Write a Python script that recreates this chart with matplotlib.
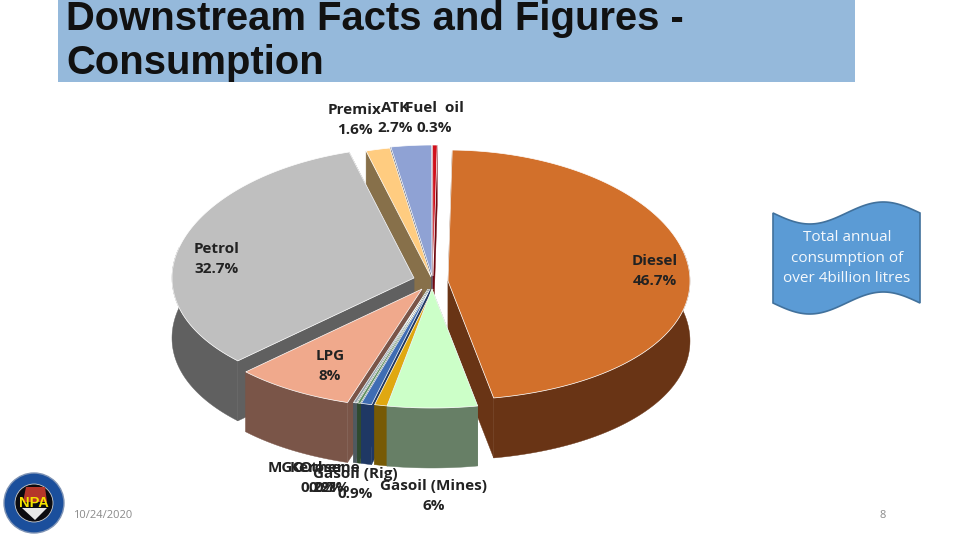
import numpy as np
import matplotlib
matplotlib.use("Agg")
import matplotlib.pyplot as plt
from matplotlib.patches import Polygon, Rectangle, Circle

# Data (clockwise from just past 12 o'clock)
categories = ["Diesel", "Gasoil (Mines)", "Gasoil (Rig)", "Kerosene", "MGO", "Other",
              "LPG", "Petrol", "Premix", "ATK", "Fuel oil"]
shares = [46.7, 6.0, 0.9, 0.7, 0.2, 0.2, 8.0, 32.7, 1.6, 2.7, 0.3]
shift_x = [16, 0, 1, -2, -3, -4, -10, -18, -1, 0, 1]
shift_y = [-2, 6, 6, 6, 6, 6, 6, -5, -6, -7, -7]
top_colors = ["#D2702B", "#CCFFC8", "#E0A810", "#3F6DB3", "#5E8F5E", "#95A3AB",
              "#F0A98C", "#BFBFBF", "#FFCC80", "#8FA2D4", "#D0101C"]
wall_colors = ["#693415", "#677F66", "#775A05", "#1F3864", "#2F4A2F", "#4F5A60",
               "#7A5548", "#606060", "#87704A", "#4A5470", "#700810"]

title = "Downstream Facts and Figures -\nConsumption"
note = "Total annual\nconsumption of\nover 4billion litres"
date_text = "10/24/2020"
page_text = "8"

# Projection of the tilted disc to figure pixels
CX, CY, RX, RY, SKEW, DEPTH, START = 432, 283, 242, 125, 6, 60, 1.0


def project(angle, r, dx, dy):
    u, v = r * np.sin(np.radians(angle)), r * np.cos(np.radians(angle))
    return np.column_stack([CX + dx + RX * u, CY + dy - RY * v - SKEW * v ** 2])


fig = plt.figure(figsize=(9.6, 5.4), dpi=100, facecolor="white")
ax = fig.add_axes([0, 0, 1, 1])
ax.set_xlim(0, 960)
ax.set_ylim(540, 0)
ax.axis("off")

# Title band
ax.add_patch(Rectangle((58, 0), 797, 82, fc="#95B9DB", ec="none", zorder=1))
ax.text(66, 41, title, fontsize=28.8, fontweight="bold", family="Liberation Sans",
        color="#111111", va="center", ha="left", linespacing=1.17, zorder=2)

# Pie slices
edges = np.concatenate([[0], np.cumsum(shares)]) * 360 / sum(shares) + START
slices = [(edges[i], edges[i + 1], i) for i in range(len(shares))]

# Back-to-front: the slices whose mid-point is farthest up go first
order = sorted(slices, key=lambda s: np.cos(np.radians((s[0] + s[1]) / 2)), reverse=True)
z = 5
for a0, a1, i in order:
    dx, dy = shift_x[i], shift_y[i]
    arc = np.linspace(a0, a1, 120)
    rim = project(arc, np.ones_like(arc), dx, dy)
    apex = project(np.array([a0]), np.array([0.0]), dx, dy)[0]
    drop = np.array([0, DEPTH])
    for p in (rim[0], rim[-1]):
        ax.add_patch(Polygon([apex, p, p + drop, apex + drop], fc=wall_colors[i],
                             ec=wall_colors[i], lw=0.3, zorder=z))
        z += 1
    front = np.cos(np.radians(arc)) < 0.25
    if front.any():
        pts = rim[front]
        ax.add_patch(Polygon(np.vstack([pts, (pts + drop)[::-1]]), fc=wall_colors[i],
                             ec=wall_colors[i], lw=0.3, zorder=z))
        z += 1
    ax.add_patch(Polygon(np.vstack([apex, rim]), fc=top_colors[i], ec="white", lw=0.5, zorder=z))
    z += 1

# Data labels
lab = dict(fontsize=11, fontweight="bold", family="Open Sans", color="#222222",
           ha="center", va="center", zorder=200, linespacing=1.6)
ax.text(194, 259, "Petrol\n32.7%", **{**lab, "ha": "left"})
ax.text(655, 271, "Diesel\n46.7%", **lab)
ax.text(330, 366, "LPG\n8%", **lab)
ax.text(434, 496, "Gasoil (Mines)\n6%", **lab)
ax.text(355, 120, "Premix\n1.6%", **lab)
ax.text(395, 118, "ATK\n2.7%", **lab)
ax.text(434, 118, "Fuel  oil\n0.3%", **lab)
ax.text(286, 468, "MGO", **lab)
ax.text(318, 488, "0.2%", **lab)
ax.text(322, 468, "Other", **lab)
ax.text(326, 488, "0.2%", **lab)
ax.text(325, 468, "Kerosene", **lab)
ax.text(332, 488, "0.7%", **lab)
ax.text(355, 484, "Gasoil (Rig)\n0.9%", **lab)

# Wave callout
t = np.linspace(0, 1, 80)
wave = 11 * np.sin(2 * np.pi * t)
top = np.column_stack([773 + 147 * t, 213 + wave])
bot = np.column_stack([773 + 147 * t, 303 + wave])
ax.add_patch(Polygon(np.vstack([top, bot[::-1]]), fc="#5B9BD5", ec="#41719C", lw=1.2, zorder=210))
ax.text(847, 258, note, fontsize=11, family="Open Sans", color="#F4F8FC", ha="center",
        va="center", linespacing=1.5, zorder=211)

# Footer
ax.text(73, 515, date_text, fontsize=8, family="Open Sans", color="#8A8A8A", va="center", zorder=5)
ax.text(883, 515, page_text, fontsize=8, family="Open Sans", color="#8A8A8A", ha="center", va="center", zorder=5)

# Logo
ax.add_patch(Circle((34, 503), 30, fc="#1B4F9C", ec="#7E93B5", lw=1, zorder=5))
ax.add_patch(Circle((34, 503), 19, fc="#0B0B10", ec="#CCCCCC", lw=0.6, zorder=6))
ax.add_patch(Polygon([[26, 487], [45, 487], [47, 502], [23, 502]], fc="#B5362A", ec="none", zorder=7))
ax.add_patch(Polygon([[22, 508], [47, 508], [35, 520]], fc="#E8E8E8", ec="none", zorder=7))
ax.text(34, 503, "NPA", fontsize=10.5, fontweight="bold", family="Liberation Sans", color="#F4E200",
        ha="center", va="center", zorder=8)

fig.savefig("out.png", dpi=100)
